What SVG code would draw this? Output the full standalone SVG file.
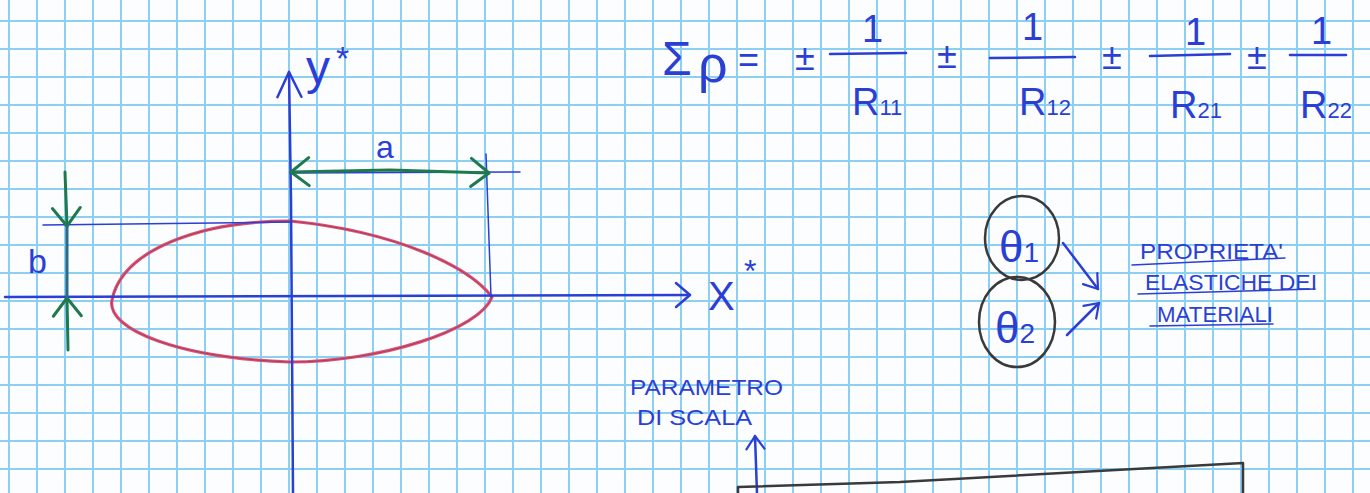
<svg xmlns="http://www.w3.org/2000/svg" width="1370" height="493" viewBox="0 0 1370 493">
<style>
.ink{fill:none;stroke:#2b3fd4;stroke-width:2.5;stroke-linecap:round;stroke-linejoin:round}
.thin{fill:none;stroke:#2b3fd4;stroke-width:1.5;stroke-linecap:round}
.green{fill:none;stroke:#1e7a4e;stroke-width:3;stroke-linecap:round;stroke-linejoin:round}
.dark{fill:none;stroke:#3a3a3a;stroke-width:2.5;stroke-linecap:round;stroke-linejoin:round}
.t{fill:#2b3fd4;font-family:"Liberation Sans","DejaVu Sans",sans-serif}
.cap{font-size:22px}
.pm{font-size:36px}
</style>
<defs>
<pattern id="grid" x="-5" y="7" width="28" height="28" patternUnits="userSpaceOnUse">
<path d="M14 0V28M0 14H28" stroke="#8ccff0" stroke-width="2" fill="none"/>
</pattern>
<marker id="ahL" markerUnits="userSpaceOnUse" markerWidth="40" markerHeight="40" viewBox="-30 -20 40 40" refX="0" refY="0" orient="auto-start-reverse" overflow="visible">
<path d="M-25 -12L0 0L-25 12" fill="none" stroke="#2b3fd4" stroke-width="2.5" stroke-linecap="round" stroke-linejoin="round"/>
</marker>
<marker id="ahB" markerUnits="userSpaceOnUse" markerWidth="40" markerHeight="40" viewBox="-30 -20 40 40" refX="0" refY="0" orient="auto-start-reverse" overflow="visible">
<path d="M-14 -12L0 0L-14 12" fill="none" stroke="#2b3fd4" stroke-width="2.5" stroke-linecap="round" stroke-linejoin="round"/>
</marker>
<marker id="ahS" markerUnits="userSpaceOnUse" markerWidth="40" markerHeight="40" viewBox="-30 -20 40 40" refX="0" refY="0" orient="auto-start-reverse" overflow="visible">
<path d="M-13 -9L0 0L-13 9" fill="none" stroke="#2b3fd4" stroke-width="2.2" stroke-linecap="round" stroke-linejoin="round"/>
</marker>
<marker id="ahG" markerUnits="userSpaceOnUse" markerWidth="40" markerHeight="40" viewBox="-30 -20 40 40" refX="0" refY="0" orient="auto-start-reverse" overflow="visible">
<path d="M-18 -14L0 0L-18 14" fill="none" stroke="#1e7a4e" stroke-width="3" stroke-linecap="round" stroke-linejoin="round"/>
</marker>
</defs>

<rect width="1370" height="493" fill="#fbfdff"/>
<rect id="grid-paper" width="1370" height="493" fill="url(#grid)"/>

<g id="profile">
<path d="M492 297C470 268 400 232 290 221C200 221 122 250 112 300C106 330 180 358 290 362C380 362 480 330 492 297Z" fill="none" stroke="#e2506f" stroke-width="3.2"/>
<path d="M492 297C470 268 400 232 290 221C200 221 122 250 112 300C106 330 180 358 290 362C380 362 480 330 492 297Z" fill="none" stroke="#4a2f5e" stroke-width="1" opacity="0.45"/>
</g>

<g id="connectors">
<path class="ink" d="M293 493L291 200L289 72" marker-end="url(#ahL)"/>
<path class="ink" d="M5 297L350 296L690 295" marker-end="url(#ahB)"/>
<path class="thin" d="M43 225L290 222"/>
<path class="thin" d="M486 154L491 297"/>
<path class="thin" d="M290 173L520 172"/>
<path class="green" d="M291 172L390 170L489 173" marker-start="url(#ahG)" marker-end="url(#ahG)"/>
<path class="green" d="M65 172L67 226" marker-end="url(#ahG)"/>
<path d="M67 226L67 297" fill="none" stroke="#2a6a8a" stroke-width="3"/>
<path class="green" d="M68 350L67 298" marker-end="url(#ahG)"/>
<path class="ink" d="M1063 243L1098 289" marker-end="url(#ahS)"/>
<path class="ink" d="M1067 335L1099 303" marker-end="url(#ahS)"/>
<path class="ink" d="M757 493L755 436" marker-end="url(#ahS)"/>
</g>

<g id="axis-labels">
<text class="t" x="306" y="84" font-size="48">y</text>
<text class="t" x="336" y="70" font-size="34">*</text>
<text class="t" x="708" y="310" font-size="40">X</text>
<text class="t" x="744" y="282" font-size="32">*</text>
<text class="t" x="376" y="158" font-size="32">a</text>
<text class="t" x="28" y="273" font-size="34">b</text>
</g>

<g id="formula">
<text class="t" x="662" y="75" font-size="48">Σ</text>
<text class="t" x="698" y="82" font-size="52">ρ</text>
<text class="t" x="738" y="72" font-size="36">=</text>
<text class="t pm" x="795" y="70">±</text>
<text class="t" x="862" y="42" font-size="38">1</text>
<path class="ink" d="M830 54L906 53"/>
<text class="t" x="852" y="115" font-size="38">R<tspan font-size="22">11</tspan></text>
<text class="t pm" x="937" y="68">±</text>
<text class="t" x="1022" y="40" font-size="38">1</text>
<path class="ink" d="M990 58L1075 57"/>
<text class="t" x="1019" y="115" font-size="38">R<tspan font-size="22">12</tspan></text>
<text class="t pm" x="1102" y="69">±</text>
<text class="t" x="1185" y="45" font-size="38">1</text>
<path class="ink" d="M1150 56L1230 54"/>
<text class="t" x="1170" y="118" font-size="38">R<tspan font-size="22">21</tspan></text>
<text class="t pm" x="1247" y="69">±</text>
<text class="t" x="1311" y="44" font-size="38">1</text>
<path class="ink" d="M1290 55L1346 55"/>
<text class="t" x="1300" y="118" font-size="38">R<tspan font-size="22">22</tspan></text>
</g>

<g id="theta1">
<ellipse class="dark" cx="1022" cy="238" rx="37" ry="42"/>
<text class="t" x="999" y="262" font-size="44">θ<tspan font-size="28">1</tspan></text>
</g>

<g id="theta2">
<ellipse class="dark" cx="1017" cy="322" rx="38" ry="45"/>
<text class="t" x="995" y="343" font-size="44">θ<tspan font-size="28">2</tspan></text>
</g>

<g id="label-proprieta">
<text class="t cap" x="1140" y="259" textLength="143" lengthAdjust="spacingAndGlyphs">PROPRIETA'</text>
<path class="thin" d="M1132 265L1285 258"/>
<text class="t cap" x="1145" y="290" textLength="172" lengthAdjust="spacingAndGlyphs">ELASTICHE DEI</text>
<path class="thin" d="M1138 294L1315 289"/>
<text class="t cap" x="1157" y="322" textLength="116" lengthAdjust="spacingAndGlyphs">MATERIALI</text>
<path class="thin" d="M1150 326L1273 324"/>
</g>

<g id="label-parametro">
<text class="t" x="630" y="395" font-size="22" textLength="153" lengthAdjust="spacingAndGlyphs">PARAMETRO</text>
<text class="t" x="637" y="425" font-size="22" textLength="115" lengthAdjust="spacingAndGlyphs">DI  SCALA</text>
</g>

<g id="box">
<path class="dark" d="M738 493L738 487L900 482L1243 463L1243 493"/>
</g>
</svg>
